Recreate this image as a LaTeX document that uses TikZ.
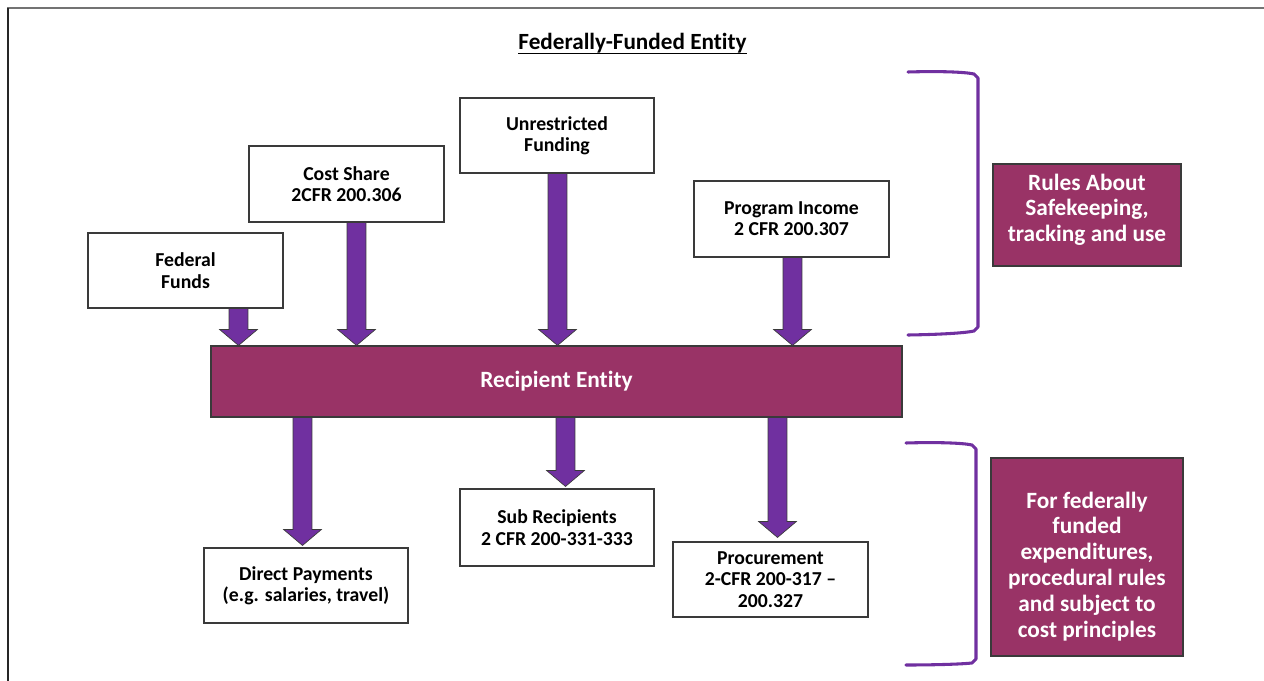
\documentclass[tikz,border=0pt]{standalone}
\usepackage{fontspec}
\setmainfont{Carlito}[RawFeature=-liga]
\usetikzlibrary{calc}
\definecolor{arrowpurple}{HTML}{7030A0}
\definecolor{plum}{HTML}{993366}
\definecolor{edgegray}{HTML}{3A3A3A}
\tikzset{
  whitebox/.style={draw=edgegray, line width=0.8pt, fill=white, align=center, inner sep=0pt,
    font=\fontsize{14.8pt}{16pt}\selectfont\bfseries},
  plumbox/.style={draw=edgegray, line width=0.8pt, fill=plum, text=white, align=center, inner sep=0pt,
    font=\fontsize{17.5pt}{19.4pt}\selectfont\bfseries},
  plumtext/.style={text=white, align=center, inner sep=0pt,
    font=\fontsize{17.5pt}{19.4pt}\selectfont\bfseries},
  blockarrow/.style={fill=arrowpurple, draw=edgegray, line width=0.5pt, line join=miter},
  bracketline/.style={draw=arrowpurple, line width=2.3pt, line cap=round, line join=round},
}
\newcommand\blockarr[2]{%
  \draw[blockarrow] let \p1=(#1), \p2=(#2) in
    (\x1-7.1pt,\y1) -- (\x1-7.1pt,\y2+12pt) -- (\x1-14.2pt,\y2+12pt) -- (\x2,\y2)
    -- (\x1+14.2pt,\y2+12pt) -- (\x1+7.1pt,\y2+12pt) -- (\x1+7.1pt,\y1) -- cycle;}
\begin{document}
\begin{tikzpicture}[x=0.75pt, y=-0.75pt]
\useasboundingbox (0,0) rectangle (1264,681);
% frame
\draw[draw=gray!110, line width=1.6pt] (7,8) -- (1264,8);
\draw[draw=black!85, line width=1.3pt] (8,8) -- (8,681);

% title
\node[inner sep=0pt, anchor=base, font=\fontsize{17.4pt}{20pt}\selectfont\bfseries] (title) at (632.5,50) {Federally-Funded Entity};
\draw[line width=0.9pt] ([yshift=-2.4pt]title.base west) -- ([yshift=-2.4pt]title.base east);

% top boxes
\node[whitebox, minimum width=146.25pt, minimum height=56.25pt] (ff) at (185.5,270.5) {Federal\\Funds};
\node[whitebox, minimum width=146.25pt, minimum height=57pt] (cs) at (346.5,184) {Cost Share\\2CFR 200.306};
\node[whitebox, minimum width=145.5pt, minimum height=56.25pt] (uf) at (557,135.5) {Unrestricted\\Funding};
\node[whitebox, minimum width=146.25pt, minimum height=57pt] (pi) at (791.5,219) {Program Income\\2 CFR 200.307};

% recipient
\node[plumbox, minimum width=518.25pt, minimum height=53.25pt] (re) at (556.5,381.5) {Recipient Entity};

% bottom boxes
\node[whitebox, minimum width=153pt, minimum height=56.25pt] (dp) at (306,585.5) {Direct Payments\\(e.g. salaries, travel)};
\node[whitebox, minimum width=145.5pt, minimum height=57.75pt] (sr) at (557,527.5) {Sub Recipients\\2 CFR 200-331-333};
\node[whitebox, minimum width=146.25pt, minimum height=56.25pt] (pr) at (770.5,579.5) {Procurement\\2-CFR 200-317 –\\200.327};

% right boxes
\node[plumbox, minimum width=141pt, minimum height=76.5pt] (ru) at (1087,215) {};
\node[plumtext] (rutext) at ([yshift=4pt]ru.center) {Rules About\\Safekeeping,\\tracking and use};
\node[plumbox, minimum width=144pt, minimum height=148.5pt] (fe) at (1087,557) {};
\node[plumtext] (fetext) at ([yshift=-7pt]fe.center) {For federally\\funded\\expenditures,\\procedural rules\\and subject to\\cost principles};

% arrow end points
\coordinate (a1s) at (ff.south -| 238.5,0);  \coordinate (a1e) at (re.north -| 238.5,0);
\coordinate (a2s) at (cs.south -| 356.5,0);  \coordinate (a2e) at (re.north -| 356.5,0);
\coordinate (a3s) at (uf.south -| 557.5,0);  \coordinate (a3e) at (re.north -| 557.5,0);
\coordinate (a4s) at (pi.south -| 792.5,0);  \coordinate (a4e) at (re.north -| 792.5,0);
\coordinate (b1s) at (re.south -| 302.5,0);  \coordinate (b1e) at ([yshift=1.5pt]dp.north -| 302.5,0);
\coordinate (b2s) at (re.south -| 565.5,0);  \coordinate (b2e) at ([yshift=1.5pt]sr.north -| 565.5,0);
\coordinate (b3s) at (re.south -| 777.5,0);  \coordinate (b3e) at ([yshift=3pt]pr.north -| 777.5,0);

\blockarr{a1s}{a1e}
\blockarr{a2s}{a2e}
\blockarr{a3s}{a3e}
\blockarr{a4s}{a4e}
\blockarr{b1s}{b1e}
\blockarr{b2s}{b2e}
\blockarr{b3s}{b3e}

% brackets
\draw[bracketline] (908,72) .. controls (940,71) and (965,72) .. (974,74) -- (978,78) -- (978,327) -- (974,331) .. controls (965,333) and (940,334.5) .. (908,335);
\draw[bracketline] (906,443) .. controls (938,442) and (963,443) .. (972,445) -- (976,449) -- (976,659) -- (972,663) .. controls (963,664) and (938,665) .. (906,665);
\end{tikzpicture}
\end{document}
